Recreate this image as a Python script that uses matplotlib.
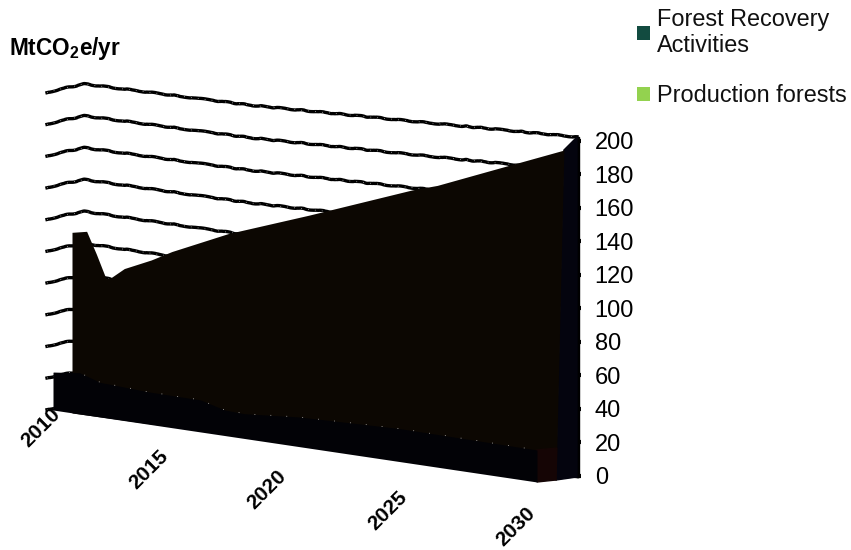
import numpy as np
import matplotlib
matplotlib.use("Agg")
import matplotlib.pyplot as plt
from matplotlib.patches import Patch, Polygon
from matplotlib.transforms import Transform, IdentityTransform

plt.rcParams['font.family'] = ['Liberation Sans', 'DejaVu Sans']
plt.rcParams['mathtext.fontset'] = 'custom'
plt.rcParams['mathtext.bf'] = 'Liberation Sans:bold'
plt.rcParams['mathtext.rm'] = 'Liberation Sans'

# ---- data ----
area_years = [2010, 2010.6, 2011, 2011.4, 2011.6, 2012.15, 2013.26, 2014.1, 2016.4, 2019.7, 2023.9, 2024.9, 2027.1, 2030]
area_values = [109, 110.8, 98, 84, 85, 91.6, 99, 105.7, 121, 138.6, 162, 166.6, 180, 197.6]
band_years = [2010, 2011.1, 2011.95, 2014, 2016.1, 2017.1, 2017.9, 2020.2, 2024.3, 2030]
band_values = [23, 25, 21, 19.6, 19.4, 15.5, 15, 18, 20, 19.4]
grid_values = [20, 40, 60, 80, 100, 120, 140, 160, 180, 200]
grid_years = [2010, 2010.5, 2011, 2011.5, 2018, 2025, 2030]
grid_dip = [-8, -5, -2.5, 0, -2, -1, 0]
y_ticks = [0, 20, 40, 60, 80, 100, 120, 140, 160, 180, 200]
x_labels = ['2010', '2015', '2020', '2025', '2030']
x_label_px = [(41, 428), (149, 470), (267, 490), (388, 511), (516, 527)]
series_names = ['Forest Recovery\nActivities', 'Production forests']
series_colors = ['#124b40', '#93d24f']

W, H = 851, 550
fig = plt.figure(figsize=(W / 100, H / 100), dpi=100, facecolor='white')


def rect(l, top, r, bottom):
    return [l / W, 1 - bottom / H, (r - l) / W, (bottom - top) / H]


ax = fig.add_axes(rect(47, 140.5, 578, 476))
ax.set_xlim(2010, 2030)
ax.set_ylim(0, 200)
ax.patch.set_alpha(0)
for s in ax.spines.values():
    s.set_visible(False)
ax.set_xticks([])
ax.yaxis.tick_right()
ax.set_yticks(y_ticks)
ax.tick_params(axis='y', length=2.5, width=3, pad=9.5, labelsize=17, color='black', labelcolor='black')


class Plane(Transform):
    """Perspective map of a (year, value) plane onto the oblique view, in image pixels."""
    input_dims = output_dims = 2
    is_affine = False
    has_inverse = False

    def __init__(self, bl, br, tl, tr):
        super().__init__()
        src = [(2010, 0), (2030, 0), (2010, 200), (2030, 200)]
        A, b = [], []
        for (u, v), (x, y) in zip(src, [bl, br, tl, tr]):
            y = H - y
            A.append([u, v, 1, 0, 0, 0, -u * x, -v * x]); b.append(x)
            A.append([0, 0, 0, u, v, 1, -u * y, -v * y]); b.append(y)
        self.M = np.append(np.linalg.solve(np.array(A, float), np.array(b, float)), 1).reshape(3, 3)

    def transform_non_affine(self, values):
        p = np.column_stack([np.asarray(values, float), np.ones(len(values))]) @ self.M.T
        return p[:, :2] / p[:, 2:3]


wall = Plane((47, 397), (577, 477), (47, 80), (577, 137))
area_pl = Plane((72, 413), (556, 480), (72, 79), (564, 146))
band_pl = Plane((53, 410), (537, 482), (53, 80), (537, 152))

# back-wall gridlines
for v in grid_values + [0]:
    ln, = ax.plot(grid_years, np.array(grid_dip) + v, color='black', lw=2.4,
                  transform=wall, clip_on=False, zorder=2)
    ln.set_sketch_params(scale=0.5, length=30, randomness=4)
    ax.plot(grid_years, np.array(grid_dip) + v, color='white', lw=0.5, ls=(0, (1, 9)),
            transform=wall, clip_on=False, zorder=2.1)

# right post on the wall
post = wall.transform(np.array([(2030, 0), (2030, 200)], float))
ax.add_patch(Polygon(np.vstack([post, post[::-1] + [1.5, 0]]), closed=True, color='black',
                     transform=IdentityTransform(), clip_on=False, zorder=3))

# side cap of the rear series
a_end = area_pl.transform(np.array([(2030, area_values[-1]), (2030, 0)], float))
w_end = wall.transform(np.array([(2030, 0), (2030, 200)], float))
ax.add_patch(Polygon(np.vstack([a_end, w_end]), closed=True, color='#04040e',
                     transform=IdentityTransform(), clip_on=False, zorder=3))

# rear series
ax.fill_between(area_years, 0, area_values, color='#0c0702', lw=0, transform=area_pl, clip_on=False, zorder=4)

# side cap of the front series
b_end = band_pl.transform(np.array([(2030, band_values[-1]), (2030, 0)], float))
c_end = area_pl.transform(np.array([(2030, 0), (2030, band_values[-1])], float))
ax.add_patch(Polygon(np.vstack([b_end, c_end]), closed=True, color='#150505',
                     transform=IdentityTransform(), clip_on=False, zorder=5))

# front series
ax.fill_between(band_years, 0, band_values, color='#020206', lw=0, transform=band_pl, clip_on=False, zorder=6)
ax.plot(band_years, band_values, color='white', lw=0.5, ls=(0, (1, 22)),
        transform=band_pl, clip_on=False, zorder=6.1)

# year labels
for lab, (px, py) in zip(x_labels, x_label_px):
    fig.text(px / W, 1 - py / H, lab, rotation=45, ha='center', va='center',
             fontsize=15, fontweight='bold', color='black')

# unit title
fig.text(9 / W, 1 - 48 / H, r'MtCO$_{\mathbf{2}}$e/yr', ha='left', va='center',
         fontsize=16.3, fontweight='bold', color='black')

# legend
handles = [Patch(facecolor=c, edgecolor='none', label=n) for c, n in zip(series_colors, series_names)]
fig.legend(handles=handles, loc='upper left', bbox_to_anchor=(632 / W, 1 - 3 / H), frameon=False,
           fontsize=16.9, handlelength=0.55, handleheight=0.55, handletextpad=0.3,
           labelspacing=1.15, borderpad=0.2, borderaxespad=0, labelcolor='#111111')

fig.savefig('out.png', dpi=100)
